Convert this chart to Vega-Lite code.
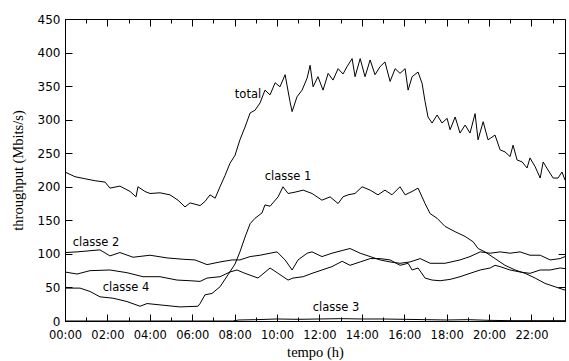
{
  "$schema": "https://vega.github.io/schema/vega-lite/v6.json",
  "width": 500,
  "height": 302,
  "autosize": {"type": "none"},
  "padding": {"left": 65, "top": 19, "right": 4, "bottom": 40},
  "background": "white",
  "config": {
    "view": {"stroke": "black", "strokeWidth": 1},
    "axis": {"domainColor": "black", "tickColor": "black", "labelColor": "black", "titleColor": "black", "grid": false, "tickWidth": 1, "domainWidth": 1}
  },
  "datasets": {
    "series": [
      {"series": "total", "h": 0, "v": 222}, {"series": "total", "h": 0.47, "v": 215}, {"series": "total", "h": 0.94, "v": 212},
      {"series": "total", "h": 1.42, "v": 209}, {"series": "total", "h": 1.89, "v": 207}, {"series": "total", "h": 2.12, "v": 198},
      {"series": "total", "h": 2.59, "v": 201}, {"series": "total", "h": 3.07, "v": 193}, {"series": "total", "h": 3.35, "v": 185},
      {"series": "total", "h": 3.44, "v": 200}, {"series": "total", "h": 3.77, "v": 193}, {"series": "total", "h": 4.01, "v": 190},
      {"series": "total", "h": 4.48, "v": 191}, {"series": "total", "h": 4.95, "v": 188}, {"series": "total", "h": 5.33, "v": 180},
      {"series": "total", "h": 5.66, "v": 170}, {"series": "total", "h": 5.9, "v": 176}, {"series": "total", "h": 6.37, "v": 172},
      {"series": "total", "h": 6.6, "v": 178}, {"series": "total", "h": 6.84, "v": 188}, {"series": "total", "h": 7.08, "v": 183},
      {"series": "total", "h": 7.31, "v": 200}, {"series": "total", "h": 7.55, "v": 217}, {"series": "total", "h": 7.78, "v": 235},
      {"series": "total", "h": 8.02, "v": 247}, {"series": "total", "h": 8.25, "v": 270}, {"series": "total", "h": 8.49, "v": 289},
      {"series": "total", "h": 8.73, "v": 310}, {"series": "total", "h": 8.96, "v": 314}, {"series": "total", "h": 9.2, "v": 325},
      {"series": "total", "h": 9.43, "v": 344}, {"series": "total", "h": 9.67, "v": 337}, {"series": "total", "h": 9.91, "v": 355},
      {"series": "total", "h": 10.14, "v": 349}, {"series": "total", "h": 10.38, "v": 367}, {"series": "total", "h": 10.61, "v": 327},
      {"series": "total", "h": 10.71, "v": 312}, {"series": "total", "h": 10.94, "v": 334}, {"series": "total", "h": 11.18, "v": 344},
      {"series": "total", "h": 11.42, "v": 362}, {"series": "total", "h": 11.56, "v": 381}, {"series": "total", "h": 11.7, "v": 349},
      {"series": "total", "h": 11.93, "v": 364}, {"series": "total", "h": 12.17, "v": 344}, {"series": "total", "h": 12.41, "v": 369},
      {"series": "total", "h": 12.64, "v": 359}, {"series": "total", "h": 12.88, "v": 376}, {"series": "total", "h": 13.11, "v": 368},
      {"series": "total", "h": 13.3, "v": 379}, {"series": "total", "h": 13.54, "v": 391}, {"series": "total", "h": 13.68, "v": 364},
      {"series": "total", "h": 13.92, "v": 391}, {"series": "total", "h": 14.15, "v": 364}, {"series": "total", "h": 14.39, "v": 389},
      {"series": "total", "h": 14.62, "v": 367}, {"series": "total", "h": 14.86, "v": 379}, {"series": "total", "h": 15.09, "v": 386},
      {"series": "total", "h": 15.33, "v": 357}, {"series": "total", "h": 15.57, "v": 376}, {"series": "total", "h": 15.8, "v": 369},
      {"series": "total", "h": 16.04, "v": 376}, {"series": "total", "h": 16.18, "v": 344}, {"series": "total", "h": 16.37, "v": 364},
      {"series": "total", "h": 16.65, "v": 371}, {"series": "total", "h": 16.84, "v": 354}, {"series": "total", "h": 16.98, "v": 327},
      {"series": "total", "h": 17.12, "v": 304}, {"series": "total", "h": 17.31, "v": 295}, {"series": "total", "h": 17.55, "v": 307},
      {"series": "total", "h": 17.78, "v": 295}, {"series": "total", "h": 18.02, "v": 302}, {"series": "total", "h": 18.16, "v": 285},
      {"series": "total", "h": 18.4, "v": 304}, {"series": "total", "h": 18.63, "v": 280}, {"series": "total", "h": 18.87, "v": 292},
      {"series": "total", "h": 19.1, "v": 280}, {"series": "total", "h": 19.34, "v": 309}, {"series": "total", "h": 19.48, "v": 270},
      {"series": "total", "h": 19.72, "v": 297}, {"series": "total", "h": 19.95, "v": 270}, {"series": "total", "h": 20.28, "v": 277},
      {"series": "total", "h": 20.52, "v": 255}, {"series": "total", "h": 20.75, "v": 252}, {"series": "total", "h": 20.99, "v": 245},
      {"series": "total", "h": 21.13, "v": 262}, {"series": "total", "h": 21.32, "v": 240}, {"series": "total", "h": 21.56, "v": 237},
      {"series": "total", "h": 21.79, "v": 228}, {"series": "total", "h": 21.93, "v": 243}, {"series": "total", "h": 22.17, "v": 230},
      {"series": "total", "h": 22.41, "v": 213}, {"series": "total", "h": 22.55, "v": 237}, {"series": "total", "h": 22.78, "v": 225},
      {"series": "total", "h": 23.02, "v": 213}, {"series": "total", "h": 23.25, "v": 213}, {"series": "total", "h": 23.44, "v": 222},
      {"series": "total", "h": 23.58, "v": 210},

      {"series": "classe 1", "h": 0, "v": 49}, {"series": "classe 1", "h": 0.71, "v": 49}, {"series": "classe 1", "h": 1.18, "v": 44},
      {"series": "classe 1", "h": 1.65, "v": 36}, {"series": "classe 1", "h": 2.26, "v": 34}, {"series": "classe 1", "h": 2.92, "v": 29},
      {"series": "classe 1", "h": 3.54, "v": 22}, {"series": "classe 1", "h": 3.87, "v": 26}, {"series": "classe 1", "h": 4.48, "v": 24},
      {"series": "classe 1", "h": 5.42, "v": 21}, {"series": "classe 1", "h": 6.27, "v": 22}, {"series": "classe 1", "h": 6.37, "v": 26},
      {"series": "classe 1", "h": 6.6, "v": 39}, {"series": "classe 1", "h": 6.93, "v": 41}, {"series": "classe 1", "h": 7.31, "v": 51},
      {"series": "classe 1", "h": 7.69, "v": 69}, {"series": "classe 1", "h": 8.02, "v": 85}, {"series": "classe 1", "h": 8.25, "v": 103},
      {"series": "classe 1", "h": 8.49, "v": 125}, {"series": "classe 1", "h": 8.73, "v": 145}, {"series": "classe 1", "h": 8.96, "v": 153},
      {"series": "classe 1", "h": 9.29, "v": 161}, {"series": "classe 1", "h": 9.43, "v": 173}, {"series": "classe 1", "h": 9.67, "v": 171},
      {"series": "classe 1", "h": 10.05, "v": 185}, {"series": "classe 1", "h": 10.28, "v": 200}, {"series": "classe 1", "h": 10.52, "v": 190},
      {"series": "classe 1", "h": 10.85, "v": 192}, {"series": "classe 1", "h": 11.23, "v": 195}, {"series": "classe 1", "h": 11.65, "v": 190},
      {"series": "classe 1", "h": 12.12, "v": 180}, {"series": "classe 1", "h": 12.5, "v": 185}, {"series": "classe 1", "h": 12.88, "v": 175},
      {"series": "classe 1", "h": 13.11, "v": 185}, {"series": "classe 1", "h": 13.35, "v": 188}, {"series": "classe 1", "h": 13.68, "v": 190},
      {"series": "classe 1", "h": 14.01, "v": 200}, {"series": "classe 1", "h": 14.39, "v": 195}, {"series": "classe 1", "h": 14.76, "v": 188},
      {"series": "classe 1", "h": 15.09, "v": 195}, {"series": "classe 1", "h": 15.42, "v": 188}, {"series": "classe 1", "h": 15.8, "v": 200},
      {"series": "classe 1", "h": 16.04, "v": 188}, {"series": "classe 1", "h": 16.37, "v": 193}, {"series": "classe 1", "h": 16.65, "v": 198},
      {"series": "classe 1", "h": 16.98, "v": 175}, {"series": "classe 1", "h": 17.22, "v": 160}, {"series": "classe 1", "h": 17.55, "v": 153},
      {"series": "classe 1", "h": 17.92, "v": 141}, {"series": "classe 1", "h": 18.4, "v": 133}, {"series": "classe 1", "h": 18.87, "v": 126},
      {"series": "classe 1", "h": 19.25, "v": 118}, {"series": "classe 1", "h": 19.48, "v": 108}, {"series": "classe 1", "h": 19.81, "v": 103},
      {"series": "classe 1", "h": 20.28, "v": 93}, {"series": "classe 1", "h": 20.75, "v": 83}, {"series": "classe 1", "h": 21.23, "v": 76},
      {"series": "classe 1", "h": 21.7, "v": 71}, {"series": "classe 1", "h": 22.17, "v": 64}, {"series": "classe 1", "h": 22.64, "v": 56},
      {"series": "classe 1", "h": 23.11, "v": 51}, {"series": "classe 1", "h": 23.58, "v": 46},

      {"series": "classe 2", "h": 0, "v": 102}, {"series": "classe 2", "h": 0.57, "v": 103}, {"series": "classe 2", "h": 1.65, "v": 106},
      {"series": "classe 2", "h": 2.12, "v": 97}, {"series": "classe 2", "h": 2.59, "v": 102}, {"series": "classe 2", "h": 3.21, "v": 95},
      {"series": "classe 2", "h": 4.01, "v": 98}, {"series": "classe 2", "h": 4.81, "v": 94}, {"series": "classe 2", "h": 5.57, "v": 92},
      {"series": "classe 2", "h": 6.13, "v": 91}, {"series": "classe 2", "h": 6.7, "v": 84}, {"series": "classe 2", "h": 7.31, "v": 88},
      {"series": "classe 2", "h": 7.88, "v": 91}, {"series": "classe 2", "h": 8.25, "v": 91}, {"series": "classe 2", "h": 8.73, "v": 96},
      {"series": "classe 2", "h": 9.2, "v": 98}, {"series": "classe 2", "h": 9.67, "v": 101}, {"series": "classe 2", "h": 10, "v": 103},
      {"series": "classe 2", "h": 10.38, "v": 91}, {"series": "classe 2", "h": 10.71, "v": 76}, {"series": "classe 2", "h": 10.99, "v": 91},
      {"series": "classe 2", "h": 11.42, "v": 101}, {"series": "classe 2", "h": 11.65, "v": 103}, {"series": "classe 2", "h": 12.12, "v": 96},
      {"series": "classe 2", "h": 12.59, "v": 101}, {"series": "classe 2", "h": 13.07, "v": 105}, {"series": "classe 2", "h": 13.44, "v": 108},
      {"series": "classe 2", "h": 13.92, "v": 101}, {"series": "classe 2", "h": 14.39, "v": 96}, {"series": "classe 2", "h": 14.86, "v": 91},
      {"series": "classe 2", "h": 15.33, "v": 88}, {"series": "classe 2", "h": 15.8, "v": 86}, {"series": "classe 2", "h": 16.27, "v": 88},
      {"series": "classe 2", "h": 16.75, "v": 93}, {"series": "classe 2", "h": 17.22, "v": 86}, {"series": "classe 2", "h": 17.92, "v": 86},
      {"series": "classe 2", "h": 18.63, "v": 91}, {"series": "classe 2", "h": 19.1, "v": 96}, {"series": "classe 2", "h": 19.58, "v": 103},
      {"series": "classe 2", "h": 20.05, "v": 101}, {"series": "classe 2", "h": 20.52, "v": 103}, {"series": "classe 2", "h": 20.99, "v": 101},
      {"series": "classe 2", "h": 21.46, "v": 103}, {"series": "classe 2", "h": 21.93, "v": 98}, {"series": "classe 2", "h": 22.41, "v": 98},
      {"series": "classe 2", "h": 22.88, "v": 91}, {"series": "classe 2", "h": 23.35, "v": 93}, {"series": "classe 2", "h": 23.58, "v": 96},

      {"series": "classe 4", "h": 0, "v": 73}, {"series": "classe 4", "h": 0.57, "v": 70}, {"series": "classe 4", "h": 1.18, "v": 75},
      {"series": "classe 4", "h": 2.12, "v": 76}, {"series": "classe 4", "h": 2.92, "v": 72}, {"series": "classe 4", "h": 3.68, "v": 66},
      {"series": "classe 4", "h": 4.48, "v": 66}, {"series": "classe 4", "h": 5.28, "v": 61}, {"series": "classe 4", "h": 5.9, "v": 60},
      {"series": "classe 4", "h": 6.37, "v": 59}, {"series": "classe 4", "h": 6.7, "v": 64}, {"series": "classe 4", "h": 7.31, "v": 66},
      {"series": "classe 4", "h": 7.78, "v": 73}, {"series": "classe 4", "h": 8.11, "v": 76}, {"series": "classe 4", "h": 8.49, "v": 71},
      {"series": "classe 4", "h": 9.1, "v": 64}, {"series": "classe 4", "h": 9.67, "v": 79}, {"series": "classe 4", "h": 10.05, "v": 71},
      {"series": "classe 4", "h": 10.52, "v": 61}, {"series": "classe 4", "h": 10.75, "v": 64}, {"series": "classe 4", "h": 11.23, "v": 66},
      {"series": "classe 4", "h": 11.65, "v": 71}, {"series": "classe 4", "h": 12.12, "v": 76}, {"series": "classe 4", "h": 12.59, "v": 81},
      {"series": "classe 4", "h": 13.07, "v": 89}, {"series": "classe 4", "h": 13.44, "v": 83}, {"series": "classe 4", "h": 13.92, "v": 88},
      {"series": "classe 4", "h": 14.39, "v": 93}, {"series": "classe 4", "h": 14.86, "v": 93}, {"series": "classe 4", "h": 15.33, "v": 91},
      {"series": "classe 4", "h": 15.8, "v": 83}, {"series": "classe 4", "h": 16.18, "v": 86}, {"series": "classe 4", "h": 16.37, "v": 76},
      {"series": "classe 4", "h": 16.65, "v": 79}, {"series": "classe 4", "h": 16.98, "v": 64}, {"series": "classe 4", "h": 17.31, "v": 61},
      {"series": "classe 4", "h": 17.69, "v": 60}, {"series": "classe 4", "h": 18.16, "v": 62}, {"series": "classe 4", "h": 18.63, "v": 66},
      {"series": "classe 4", "h": 19.1, "v": 71}, {"series": "classe 4", "h": 19.58, "v": 76}, {"series": "classe 4", "h": 20.05, "v": 79},
      {"series": "classe 4", "h": 20.28, "v": 83}, {"series": "classe 4", "h": 20.52, "v": 81}, {"series": "classe 4", "h": 20.99, "v": 76},
      {"series": "classe 4", "h": 21.46, "v": 73}, {"series": "classe 4", "h": 21.93, "v": 71}, {"series": "classe 4", "h": 22.41, "v": 76},
      {"series": "classe 4", "h": 22.88, "v": 76}, {"series": "classe 4", "h": 23.35, "v": 79}, {"series": "classe 4", "h": 23.58, "v": 78},

      {"series": "classe 3", "h": 0, "v": 0}, {"series": "classe 3", "h": 7.9, "v": 0}, {"series": "classe 3", "h": 8.2, "v": 1.5},
      {"series": "classe 3", "h": 9, "v": 2}, {"series": "classe 3", "h": 10, "v": 3}, {"series": "classe 3", "h": 11, "v": 2.5},
      {"series": "classe 3", "h": 12, "v": 3}, {"series": "classe 3", "h": 13, "v": 3.5}, {"series": "classe 3", "h": 14, "v": 3},
      {"series": "classe 3", "h": 15, "v": 3}, {"series": "classe 3", "h": 16, "v": 2.5}, {"series": "classe 3", "h": 17, "v": 2},
      {"series": "classe 3", "h": 18, "v": 1.5}, {"series": "classe 3", "h": 19, "v": 2}, {"series": "classe 3", "h": 20, "v": 1},
      {"series": "classe 3", "h": 21, "v": 0.5}, {"series": "classe 3", "h": 22, "v": 0.5}, {"series": "classe 3", "h": 23.58, "v": 0.5}
    ],
    "labels": [
      {"label": "total", "h": 8.63, "v": 337},
      {"label": "classe 1", "h": 10.52, "v": 215},
      {"label": "classe 2", "h": 1.46, "v": 116},
      {"label": "classe 4", "h": 2.88, "v": 48.7},
      {"label": "classe 3", "h": 12.78, "v": 19}
    ]
  },
  "layer": [
    {
      "data": {"name": "series"},
      "mark": {"type": "line", "color": "black", "strokeWidth": 1},
      "encoding": {
        "x": {
          "field": "h", "type": "quantitative",
          "scale": {"domain": [0, 23.58], "nice": false, "zero": false},
          "axis": {
            "orient": "bottom",
            "values": [0,1,2,3,4,5,6,7,8,9,10,11,12,13,14,15,16,17,18,19,20,21,22,23],
            "labelExpr": "datum.value % 2 == 0 ? (datum.value < 10 ? '0' : '') + datum.value + ':00' : ''",
            "tickSize": {"condition": {"test": "datum.value % 2 == 0", "value": -7}, "value": -4},
            "labelPadding": 15,
            "labelFont": "DejaVu Sans", "labelFontSize": 11.5,
            "labelOverlap": false, "labelFlush": false,
            "title": "tempo (h)", "titleFont": "Liberation Serif", "titleFontSize": 14.5, "titleFontWeight": "normal",
            "titlePadding": 2
          }
        },
        "y": {
          "field": "v", "type": "quantitative",
          "scale": {"domain": [0, 450], "nice": false},
          "axis": {
            "orient": "left",
            "values": [0,50,100,150,200,250,300,350,400,450],
            "tickSize": -7,
            "labelPadding": 12,
            "labelFont": "DejaVu Sans", "labelFontSize": 12,
            "labelOverlap": false, "labelFlush": false,
            "title": "throughput (Mbits/s)", "titleFont": "Liberation Serif", "titleFontSize": 14.5, "titleFontWeight": "normal",
            "titlePadding": 12
          }
        },
        "detail": {"field": "series"}
      }
    },
    {
      "data": {"name": "labels"},
      "mark": {"type": "text", "font": "DejaVu Sans", "fontSize": 11.5, "color": "black", "baseline": "middle", "align": "center"},
      "encoding": {
        "x": {
          "field": "h", "type": "quantitative",
          "axis": {
            "orient": "top",
            "values": [0,1,2,3,4,5,6,7,8,9,10,11,12,13,14,15,16,17,18,19,20,21,22,23],
            "tickSize": {"condition": {"test": "datum.value % 2 == 0", "value": -7}, "value": -4},
            "labels": false, "title": null, "domain": false
          }
        },
        "y": {
          "field": "v", "type": "quantitative",
          "axis": {
            "orient": "right",
            "values": [0,50,100,150,200,250,300,350,400,450],
            "tickSize": -7,
            "labels": false, "title": null, "domain": false
          }
        },
        "text": {"field": "label"}
      }
    }
  ],
  "resolve": {"axis": {"x": "independent", "y": "independent"}}
}
